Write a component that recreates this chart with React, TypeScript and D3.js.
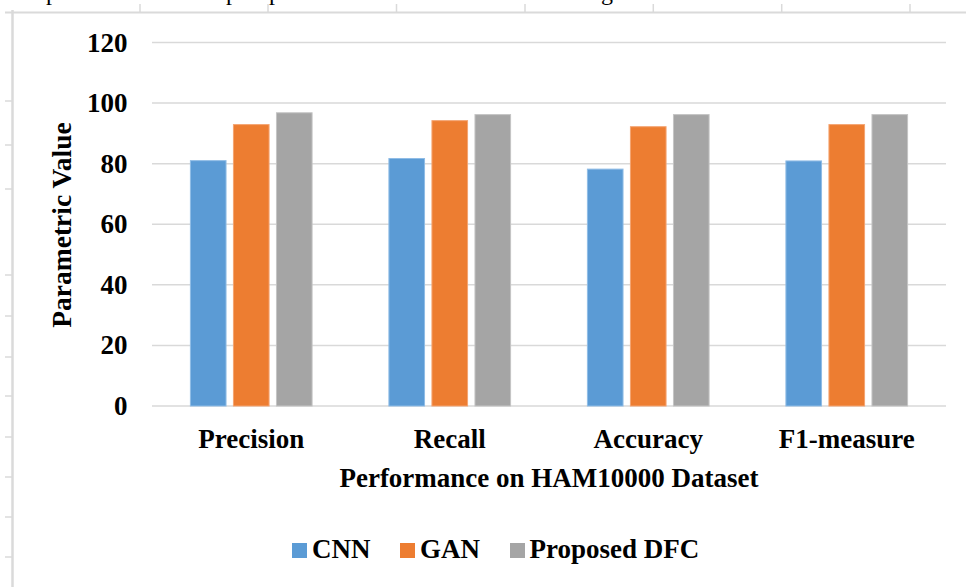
import React from "react";
import * as d3 from "d3";

const categories = ["Precision", "Recall", "Accuracy", "F1-measure"];
const seriesNames = ["CNN", "GAN", "Proposed DFC"];
const cnnValues = [81.0, 81.7, 78.2, 80.9];
const ganValues = [92.9, 94.2, 92.2, 92.9];
const dfcValues = [96.8, 96.2, 96.2, 96.2];
const yTicks = [0, 20, 40, 60, 80, 100, 120];
const colors = ["#5B9BD5", "#ED7D31", "#A5A5A5"];
const strokes = ["#8FBCE6", "#F4A471", "#C4C4C4"];
const pageTopTicks = [140, 268, 396.5, 525, 653.3, 781.7, 910];
const pageLeftTicks = [101, 145, 189, 275, 316, 357, 396, 437, 477, 517, 557];
const topFragments = [
  { t: "p", x: 46 },
  { t: "p", x: 226 },
  { t: "p", x: 269 },
  { t: "g", x: 601 },
];

const W = 966;
const H = 587;
const FONT = "Liberation Serif, DejaVu Serif, serif";
const tstyle: React.CSSProperties = { fontFamily: FONT };

export default function App() {
  const x0 = d3
    .scaleBand<string>()
    .domain(categories)
    .range([152, 946])
    .paddingInner(0.387)
    .paddingOuter(0.1935);
  const x1 = d3
    .scaleBand<string>()
    .domain(seriesNames)
    .range([0, x0.bandwidth()])
    .paddingInner(0.172);
  const y = d3.scaleLinear().domain([0, 120]).range([406, 42.5]);
  const series = [cnnValues, ganValues, dfcValues];

  const legendItems = [
    { name: seriesNames[0], sq: 292, tx: 312 },
    { name: seriesNames[1], sq: 400, tx: 420 },
    { name: seriesNames[2], sq: 510, tx: 529.5 },
  ];

  return (
    <svg
      width={W}
      height={H}
      style={{ position: "absolute", left: 0, top: 0, background: "#fff", fontFamily: FONT }}
    >
      <rect x={0} y={0} width={W} height={H} fill="#fff" />
      {/* page fragments (text line above, cut off in the source) */}
      {topFragments.map((f, i) => (
        <text key={i} x={f.x} y={0} fontSize={24} fill="#000" style={tstyle}>
          {f.t}
        </text>
      ))}
      <line x1={5} x2={W} y1={12.5} y2={12.5} stroke="#DADADA" strokeWidth={2} />
      <line x1={12.5} x2={12.5} y1={10} y2={H} stroke="#DADADA" strokeWidth={2.5} />
      {pageTopTicks.map((tx, i) => (
        <line key={i} x1={tx} x2={tx} y1={4} y2={12} stroke="#DADADA" strokeWidth={1.5} />
      ))}
      {pageLeftTicks.map((ty, i) => (
        <line key={i} x1={5} x2={12} y1={ty} y2={ty} stroke="#DADADA" strokeWidth={1.5} />
      ))}

      {/* gridlines */}
      {yTicks.map((t) => (
        <line
          key={t}
          x1={152}
          x2={946}
          y1={y(t)}
          y2={y(t)}
          stroke="#D9D9D9"
          strokeWidth={1.5}
        />
      ))}
      {/* y tick labels */}
      {yTicks.map((t) => (
        <text
          key={"l" + t}
          x={127.5}
          y={y(t) + 9}
          textAnchor="end"
          fontSize={27}
          fontWeight="bold"
          fill="#000"
          style={tstyle}
        >
          {t}
        </text>
      ))}
      {/* bars */}
      {categories.map((c, ci) => (
        <g key={c} transform={`translate(${x0(c)},0)`}>
          {seriesNames.map((s, si) => {
            const v = series[si][ci];
            return (
              <rect
                key={s}
                x={x1(s)}
                y={y(v)}
                width={x1.bandwidth()}
                height={y(0) - y(v)}
                fill={colors[si]}
                stroke={strokes[si]}
                strokeWidth={1}
              />
            );
          })}
        </g>
      ))}
      {/* category labels */}
      {categories.map((c) => (
        <text
          key={"c" + c}
          x={(x0(c) as number) + x0.bandwidth() / 2}
          y={447.5}
          textAnchor="middle"
          fontSize={27}
          fontWeight="bold"
          fill="#000"
          style={tstyle}
        >
          {c}
        </text>
      ))}
      {/* axis titles */}
      <text
        x={549}
        y={486.5}
        textAnchor="middle"
        fontSize={27}
        fontWeight="bold"
        fill="#000"
        style={tstyle}
      >
        Performance on HAM10000 Dataset
      </text>
      <text
        transform="translate(71,225) rotate(-90)"
        textAnchor="middle"
        fontSize={27.5}
        fontWeight="bold"
        fill="#000"
        style={tstyle}
      >
        Parametric Value
      </text>
      {/* legend */}
      {legendItems.map((l, i) => (
        <g key={l.name}>
          <rect x={l.sq} y={543} width={15} height={15} fill={colors[i]} />
          <text x={l.tx} y={557.5} fontSize={27} fontWeight="bold" fill="#000" style={tstyle}>
            {l.name}
          </text>
        </g>
      ))}
    </svg>
  );
}
